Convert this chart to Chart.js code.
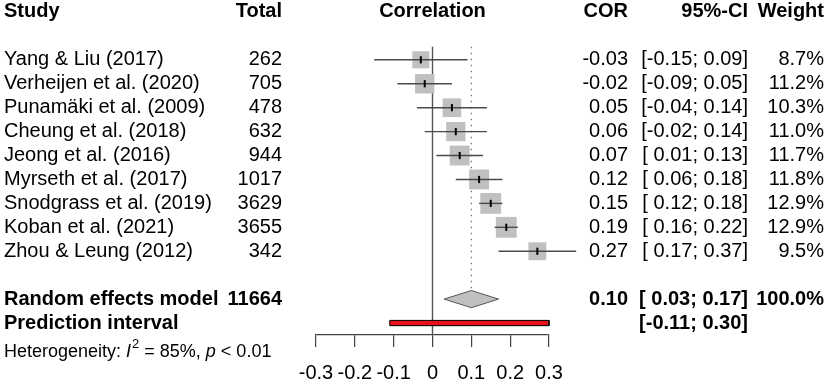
<!DOCTYPE html>
<html>
<head>
<meta charset="utf-8">
<script src="https://cdn.jsdelivr.net/npm/chart.js@4/dist/chart.umd.min.js"></script>
<style>
html,body{margin:0;padding:0;background:#fff;}
#wrap{width:829px;height:384px;}
</style>
</head>
<body>
<div id="wrap"><canvas id="c" width="829" height="384"></canvas></div>
<script>
// ---- data ----
const studies = ["Yang & Liu (2017)","Verheijen et al. (2020)","Punamäki et al. (2009)","Cheung et al. (2018)","Jeong et al. (2016)","Myrseth et al. (2017)","Snodgrass et al. (2019)","Koban et al. (2021)","Zhou & Leung (2012)"];
const totals = [262,705,478,632,944,1017,3629,3655,342];
const cor = [-0.03,-0.02,0.05,0.06,0.07,0.12,0.15,0.19,0.27];
const ciLow = [-0.15,-0.09,-0.04,-0.02,0.01,0.06,0.12,0.16,0.17];
const ciHigh = [0.09,0.05,0.14,0.14,0.13,0.18,0.18,0.22,0.37];
const weights = [8.7,11.2,10.3,11.0,11.7,11.8,12.9,12.9,9.5];
const reTotal = 11664;
const reEst = [0.10];
const reCI = [0.03,0.17];
const piCI = [-0.11,0.30];
const reWeight = [100.0];
const hetI2 = [85];
const xTicks = [-0.3,-0.2,-0.1,0,0.1,0.2,0.3];

// ---- layout rows ----
const firstRow = 2, reRow = 12, piRow = 13, hetRow = 14.2;
const rowOf = i => firstRow + i;
const FONT = "'Liberation Sans', Arial, Helvetica, sans-serif";

const fmt2 = v => (Math.abs(v) < 1e-9 ? 0 : v).toFixed(2);
const fmtCI = (lo, hi) => '[' + (lo < 0 ? '' : ' ') + fmt2(lo) + '; ' + fmt2(hi) + ']';

const datasets = [];
// center ticks
datasets.push({
  data: cor.map((v,i)=>({x:v,y:rowOf(i)})),
  pointStyle:'line', pointRotation:90, pointRadius:3.6, borderColor:'#000', borderWidth:2,
  showLine:false, clip:false
});
// CI lines
cor.forEach((v,i)=>{
  datasets.push({
    data:[{x:ciLow[i],y:rowOf(i)},{x:ciHigh[i],y:rowOf(i)}],
    showLine:true, borderColor:'#4a4a4a', borderWidth:1.4, pointRadius:0, clip:false
  });
});
// squares
datasets.push({
  data: cor.map((v,i)=>({x:v,y:rowOf(i)})),
  pointStyle:'rect', backgroundColor:'#c0c0c0', borderColor:'#c0c0c0', borderWidth:0,
  pointRadius: ctx => 5.8*Math.sqrt(weights[ctx.dataIndex])/Math.SQRT2,
  showLine:false, clip:false
});
// diamond
const dh = 0.36;
datasets.push({
  data:[{x:reCI[0],y:reRow},{x:reEst[0],y:reRow-dh},{x:reCI[1],y:reRow},{x:reEst[0],y:reRow+dh},{x:reCI[0],y:reRow}],
  showLine:true, fill:'shape', backgroundColor:'#c0c0c0', borderColor:'#555', borderWidth:1, pointRadius:0, clip:false, tension:0
});
// prediction interval
const ph = 0.11;
datasets.push({
  data:[{x:piCI[0],y:piRow-ph},{x:piCI[1],y:piRow-ph},{x:piCI[1],y:piRow+ph},{x:piCI[0],y:piRow+ph},{x:piCI[0],y:piRow-ph}],
  showLine:true, fill:'shape', backgroundColor:'#e8121a', borderColor:'#000', borderWidth:1, pointRadius:0, clip:false, tension:0
});
// dotted line at summary estimate
datasets.push({
  data:[{x:reEst[0],y:1.45},{x:reEst[0],y:reRow-dh}],
  showLine:true, borderColor:'#777', borderWidth:1.3, borderDash:[1.5,4.5], pointRadius:0, clip:false
});
// zero line
datasets.push({
  data:[{x:0,y:1.45},{x:0,y:13.5}],
  showLine:true, borderColor:'#555', borderWidth:1.4, pointRadius:0, clip:false
});

const textPlugin = {
  id:'forestText',
  afterDraw(chart){
    const ctx = chart.ctx, ys = chart.scales.y, xs = chart.scales.x;
    ctx.save();
    ctx.fillStyle = '#000';
    ctx.textBaseline = 'middle';
    const put = (s, x, row, align, bold, size) => {
      ctx.font = (bold?'bold ':'') + (size||20) + 'px ' + FONT;
      ctx.textAlign = align;
      ctx.fillText(s, x, ys.getPixelForValue(row));
    };
    const X = {study:4, total:282, cor:628, ci:748, w:824};
    // header
    put('Study', X.study, 0, 'left', true);
    put('Total', X.total, 0, 'right', true);
    put('Correlation', xs.getPixelForValue(0), 0, 'center', true);
    put('COR', X.cor, 0, 'right', true);
    put('95%-CI', X.ci, 0, 'right', true);
    put('Weight', X.w, 0, 'right', true);
    // studies
    studies.forEach((s,i)=>{
      const r = rowOf(i);
      put(s, X.study, r, 'left', false);
      put(String(totals[i]), X.total, r, 'right', false);
      put(fmt2(cor[i]), X.cor, r, 'right', false);
      put(fmtCI(ciLow[i], ciHigh[i]), X.ci, r, 'right', false);
      put(weights[i].toFixed(1)+'%', X.w, r, 'right', false);
    });
    // summary
    put('Random effects model', X.study, reRow, 'left', true);
    put(String(reTotal), X.total, reRow, 'right', true);
    put(fmt2(reEst[0]), X.cor, reRow, 'right', true);
    put(fmtCI(reCI[0], reCI[1]), X.ci, reRow, 'right', true);
    put(reWeight[0].toFixed(1)+'%', X.w, reRow, 'right', true);
    put('Prediction interval', X.study, piRow, 'left', true);
    put(fmtCI(piCI[0], piCI[1]), X.ci, piRow, 'right', true);
    // heterogeneity
    const y = ys.getPixelForValue(hetRow);
    let x = X.study;
    ctx.textAlign = 'left';
    const seg = (s, style, size, dy) => {
      ctx.font = style + size + 'px ' + FONT;
      ctx.fillText(s, x, y + (dy||0));
      x += ctx.measureText(s).width;
    };
    seg('Heterogeneity: ', '', 18);
    seg('I', 'italic ', 18);
    x += 1;
    seg('2', '', 13, -7);
    seg(' = ' + hetI2[0] + '%, ', '', 18);
    seg('p', 'italic ', 18);
    seg(' < 0.01', '', 18);
    ctx.restore();
  }
};

new Chart(document.getElementById('c'), {
  type:'scatter',
  data:{datasets},
  options:{
    responsive:false, animation:false,
    layout:{autoPadding:false, padding:{left:316, right:280, top:0, bottom:0}},
    plugins:{legend:{display:false}, tooltip:{enabled:false}},
    scales:{
      x:{
        type:'linear', min:-0.3, max:0.3,
        afterFit: s => { s.height = 49; },
        afterBuildTicks: s => { s.ticks = xTicks.map(v=>({value:v})); },
        grid:{display:true, drawOnChartArea:false, drawTicks:true, tickLength:12, color:'#444', lineWidth:1.2},
        border:{display:true, color:'#444', width:1.2},
        ticks:{color:'#000', padding:14, maxRotation:0, autoSkip:false,
          font:{family:FONT, size:20},
          callback: v => Math.abs(v) < 1e-9 ? '0' : Number(v).toFixed(1)}
      },
      y:{type:'linear', reverse:true, min:-0.5, max:13.5, display:false}
    }
  },
  plugins:[textPlugin]
});
</script>
</body>
</html>
